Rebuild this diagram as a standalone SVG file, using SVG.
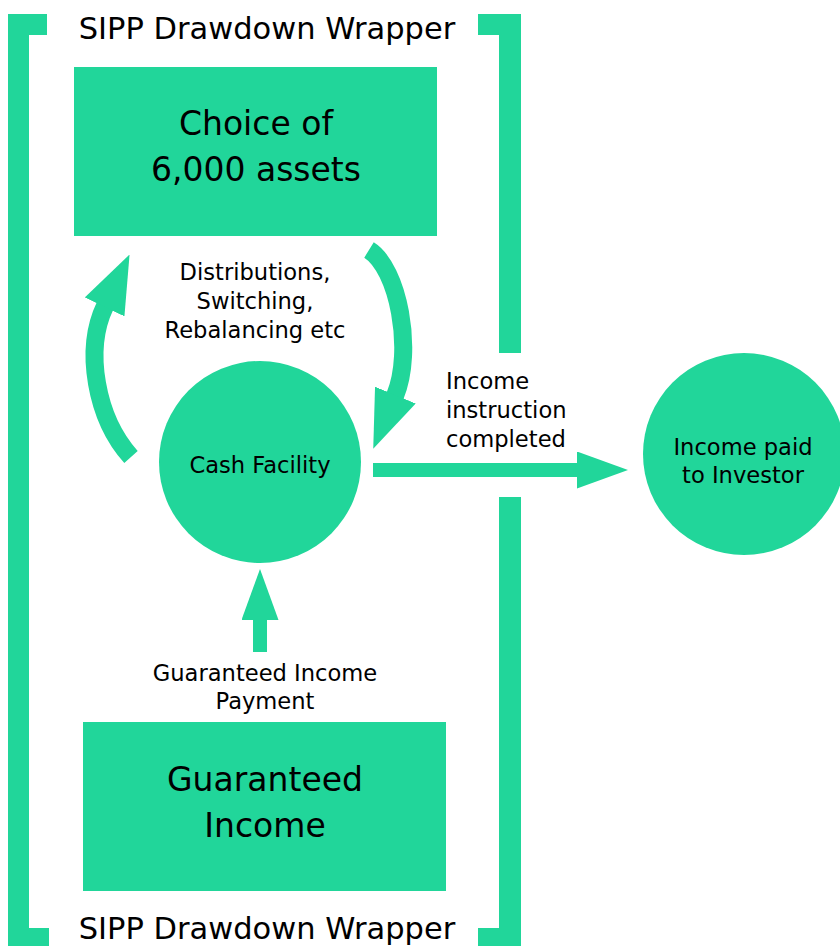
<svg xmlns="http://www.w3.org/2000/svg" width="840" height="946" viewBox="0 0 840 946">
  <style>
    .fill { fill: #21d69a; }
    .txt { font-family: "DejaVu Sans", "Liberation Sans", sans-serif; fill: #000; }
    .title { font-size: 30.5px; text-anchor: middle; }
    .big { font-size: 33px; text-anchor: middle; }
    .mid { font-size: 22.6px; text-anchor: middle; }
    .lbl { font-size: 22.6px; }
    .shaft { fill: none; stroke: #21d69a; stroke-linecap: butt; }
    .thin { stroke-width: 14; }
    .thick { stroke-width: 18; }
  </style>
  <defs>
    <!-- straight arrowhead: 51 long, 37 wide -->
    <marker id="headS" markerUnits="userSpaceOnUse" viewBox="0 0 51 37" markerWidth="51" markerHeight="37" refX="1" refY="18.5" orient="auto">
      <path d="M0,0 L51,18.5 L0,37 Z" fill="#21d69a"/>
    </marker>
    <!-- curved arrowhead: 58 long, 44 wide -->
    <marker id="headC" markerUnits="userSpaceOnUse" viewBox="0 0 58 44" markerWidth="58" markerHeight="44" refX="1" refY="22" orient="auto">
      <path d="M0,0 L58,22 L0,44 Z" fill="#21d69a"/>
    </marker>
  </defs>

  <rect width="840" height="946" fill="#fff"/>

  <!-- SIPP wrapper brackets and captions -->
  <g id="wrapper">
    <path class="fill" d="M8,14 H47 V35 H29 V928 H49 V946 H8 Z"/>
    <path class="fill" d="M478,14 H521 V353 H499 V35 H478 Z"/>
    <path class="fill" d="M499,497 H521 V946 H478 V928 H499 Z"/>
    <text class="txt title" x="267" y="39">SIPP Drawdown Wrapper</text>
    <text class="txt title" x="267" y="939">SIPP Drawdown Wrapper</text>
  </g>

  <g id="choice">
    <rect class="fill" x="74" y="67" width="363" height="169"/>
    <text class="txt big" x="256" y="135">Choice of</text>
    <text class="txt big" x="256" y="181">6,000 assets</text>
  </g>

  <g id="cash">
    <circle class="fill" cx="260" cy="462" r="101"/>
    <text class="txt mid" x="260" y="473">Cash Facility</text>
  </g>

  <g id="guaranteed">
    <rect class="fill" x="83" y="722" width="363" height="169"/>
    <text class="txt big" x="265" y="791">Guaranteed</text>
    <text class="txt big" x="265" y="837">Income</text>
  </g>

  <g id="investor">
    <circle class="fill" cx="744" cy="454" r="101"/>
    <text class="txt mid" x="743" y="455">Income paid</text>
    <text class="txt mid" x="743" y="483">to Investor</text>
  </g>

  <g id="connectors">
    <!-- cash facility back up to the assets -->
    <path class="shaft thick" d="M131,457 C96,418 84,350 105,306" marker-end="url(#headC)"/>
    <!-- assets down to the cash facility -->
    <path class="shaft thick" d="M369,250 C398,268 414,350 395,396" marker-end="url(#headC)"/>
    <text class="txt mid" x="255" y="279.5">Distributions,</text>
    <text class="txt mid" x="255" y="308.5">Switching,</text>
    <text class="txt mid" x="255" y="337.5">Rebalancing etc</text>

    <!-- cash facility out to the investor -->
    <path class="shaft thin" d="M373,470 H578" marker-end="url(#headS)"/>
    <text class="txt lbl" x="446" y="389">Income</text>
    <text class="txt lbl" x="446" y="418">instruction</text>
    <text class="txt lbl" x="446" y="447">completed</text>

    <!-- guaranteed income into the cash facility -->
    <path class="shaft thin" d="M260,652 V619" marker-end="url(#headS)"/>
    <text class="txt mid" x="265" y="681">Guaranteed Income</text>
    <text class="txt mid" x="265" y="709">Payment</text>
  </g>
</svg>
